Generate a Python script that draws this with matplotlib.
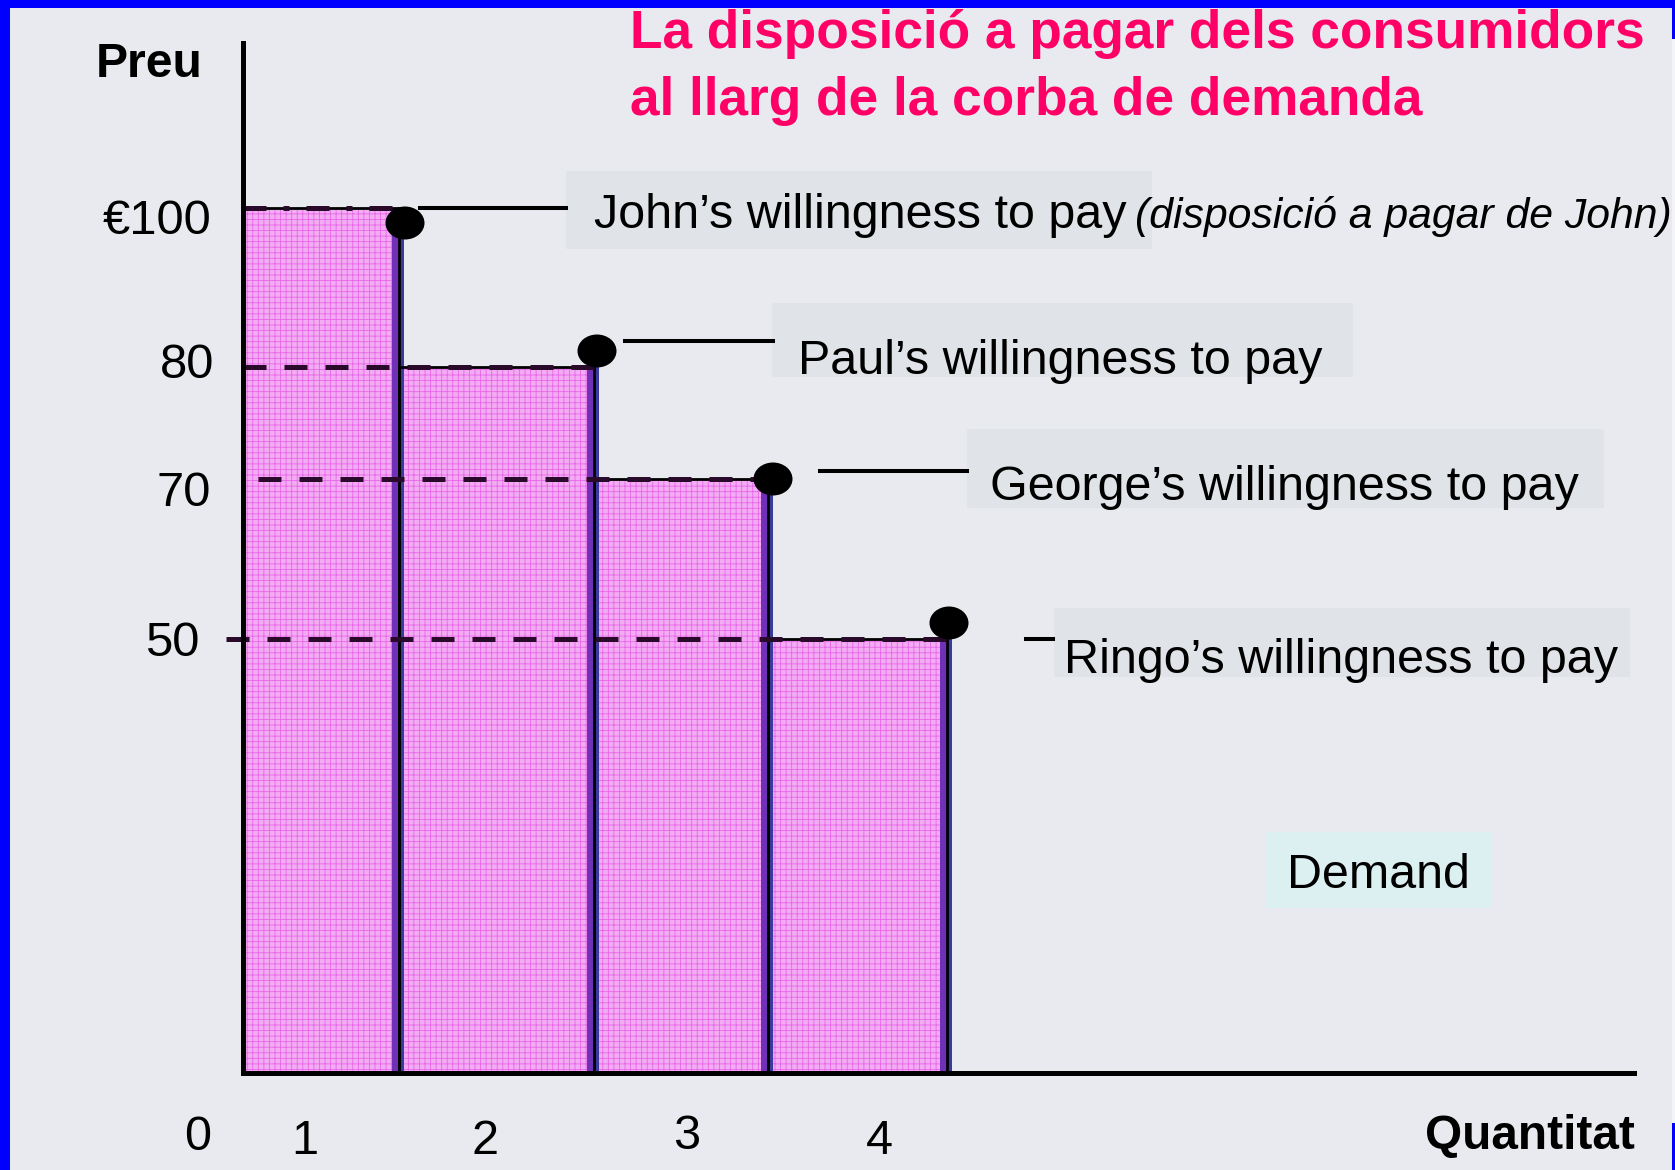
import numpy as np
import matplotlib
matplotlib.use("Agg")
import matplotlib.pyplot as plt
from matplotlib.patches import Rectangle, Ellipse
from matplotlib.lines import Line2D
from matplotlib.transforms import Affine2D, ScaledTranslation, blended_transform_factory

# values
consumers = ["John", "Paul", "George", "Ringo"]
willingness = [100, 80, 70, 50]
price_labels = ["€100", "80", "70", "50"]
qty_labels = ["1", "2", "3", "4"]
callout_texts = ["John’s willingness to pay", "Paul’s willingness to pay",
                 "George’s willingness to pay", "Ringo’s willingness to pay"]
john_note = "(disposició a pagar de John)"
title = ["La disposició a pagar dels consumidors", "al llarg de la corba de demanda"]

W, H, DPI = 1675, 1170, 100
BG = "#e9eaef"
PINK = "#ff0066"
plt.rcParams["font.family"] = ["Liberation Sans", "DejaVu Sans"]
plt.rcParams["hatch.linewidth"] = 0.6

# the slide is schematic, not drawn to scale: pixel spacing of its axes
qty_edges_px = [0, 156, 351, 525, 704]
price_levels_px = [0, 434, 594, 706, 865]   # for 0, 50, 70, 80, 100

x_vals = np.array([-1, 0, 1, 2, 3, 4, 12], dtype=float)
x_pos = np.array([-176] + qty_edges_px + [704 + 8 * 176], dtype=float)
y_vals = np.array([-10, 0] + sorted(willingness) + [200], dtype=float)
y_pos = np.array([-86.5] + price_levels_px + [865 + 100 * 8.65], dtype=float)


def xfwd(v):
    return np.interp(v, x_vals, x_pos)


def xinv(p):
    return np.interp(p, x_pos, x_vals)


def yfwd(v):
    return np.interp(v, y_vals, y_pos)


def yinv(p):
    return np.interp(p, y_pos, y_vals)


fig = plt.figure(figsize=(W / DPI, H / DPI), dpi=DPI, facecolor=BG)
ax = fig.add_axes([243 / W, 1 - 1073 / H, (1634 - 243) / W, (1073 - 43) / H])
ax.set_facecolor(BG)
ax.set_xscale("function", functions=(xfwd, xinv))
ax.set_yscale("function", functions=(yfwd, yinv))
ax.set_xlim(0, float(xinv(1634 - 243)))
ax.set_ylim(0, float(yinv(1073 - 43)))


def fig_rect(x0, y0, x1, y1, color, z=0):
    # pixel box (y from top) drawn on the figure
    fig.patches.append(Rectangle((x0 / W, 1 - y1 / H), (x1 - x0) / W, (y1 - y0) / H,
                                 transform=fig.transFigure, fc=color, ec="none", zorder=z))


def row_transform(v):
    # x in figure pixels, y in pixels below the top of the bar at value v
    ytr = Affine2D().scale(1, -1) + ScaledTranslation(0, v, ax.transData)
    return blended_transform_factory(Affine2D(), ytr)


def edge_transform(x):
    # x in pixels from data x, y in data
    xtr = Affine2D() + ScaledTranslation(x, 0, ax.transData)
    return blended_transform_factory(xtr, ax.transData)


# bars
n = len(willingness)
lefts = list(range(n))
ax.bar(lefts, willingness, width=1, align="edge", color="#f3acf3", edgecolor="none", zorder=2)
ax.bar(lefts, willingness, width=1, align="edge", fill=False, edgecolor="#e866e8",
       linewidth=0, hatch="+++", zorder=2.2)
ax.bar(lefts, willingness, width=1, align="edge", fill=False, edgecolor="black",
       linewidth=2, zorder=3.5)
for i, v in enumerate(willingness):
    tr = edge_transform(i + 1)
    ax.add_patch(Rectangle((-7, 0), 7, v, transform=tr, fc="#7030b8", ec="none", zorder=3))
    ax.add_patch(Rectangle((0, 0), 5, v, transform=tr, fc="#3a3a9e", ec="none", zorder=3))

# dashed price levels
dash_start = xinv(np.array([0, 0, 15, -17], dtype=float))
for i, v in enumerate(willingness):
    ls = (0, (4.6, 3.4, 1.2, 3.4)) if i == 0 else (0, (4.6, 3.6))
    ax.plot([dash_start[i], i + 1], [v, v], color="#2a0a2a", lw=3.6, ls=ls,
            dash_capstyle="butt", clip_on=False, zorder=4)

# dots at the top corners (pixel nudges, y downwards)
dot_nudge = [(6, 15), (3, -16), (5, 0), (2, -16)]
for i, v in enumerate(willingness):
    dx, dy = dot_nudge[i]
    tr = Affine2D().translate(dx, -dy) + ScaledTranslation(i + 1, v, ax.transData)
    ax.add_patch(Ellipse((0, 0), 39, 33, transform=tr, fc="black", ec="none",
                         zorder=5, clip_on=False))

# callouts: box x0, x1, y0, y1, leader x0, x1, leader dy, text x, baseline dy
callouts = [
    (566, 1152, -37, 41, 420, 566, 0, 594, 20),
    (772, 1353, -64, 10, 625, 773, -26, 798, 7),
    (967, 1604, -50, 29, 820, 967, -8, 990, 21),
    (1054, 1630, -31, 38, 1026, 1053, 0, 1064, 34),
]
for i, v in enumerate(willingness):
    bx0, bx1, by0, by1, lx0, lx1, ldy, tx, tdy = callouts[i]
    tr = row_transform(v)
    fig.patches.append(Rectangle((bx0, by0), bx1 - bx0, by1 - by0, transform=tr,
                                 fc="#e0e3e8", ec="none", zorder=1))
    fig.lines.append(Line2D([lx0, lx1], [ldy, ldy], transform=tr, color="black", lw=2.9, zorder=4))
    fig.text(tx, tdy, callout_texts[i], transform=tr, fontsize=34.9, va="baseline", ha="left", zorder=6)
    if i == 0:
        fig.text(1135, tdy, john_note, transform=tr, fontsize=30.8, style="italic",
                 va="baseline", ha="left", zorder=6)

# demand tag
fig_rect(1266, 832, 1491, 908, "#dcf0f2", z=1)
fig.text(1287 / W, 1 - 888 / H, "Demand", fontsize=34.8, va="baseline", ha="left")

# axes styling
for s in ["top", "right"]:
    ax.spines[s].set_visible(False)
for s in ["left", "bottom"]:
    ax.spines[s].set_linewidth(3.6)
    ax.spines[s].set_color("black")
    ax.spines[s].set_zorder(6)

ax.set_yticks(willingness, price_labels)
ax.tick_params(axis="y", length=0, pad=23, labelsize=35.3)
ylab_nudge = [(0, 8), (3, -7), (0, 9), (-12, -1)]
for lab, (dx, dy) in zip(ax.get_yticklabels(), ylab_nudge):
    lab.set_transform(lab.get_transform() + ScaledTranslation(dx / DPI, -dy / DPI, fig.dpi_scale_trans))

qty_tick_px = np.array([62, 242, 444, 636], dtype=float)
ax.set_xticks(xinv(qty_tick_px), qty_labels)
ax.tick_params(axis="x", length=0, pad=33, labelsize=35)
xlab_nudge = [0, 0, -5, 0]
for lab, dy in zip(ax.get_xticklabels(), xlab_nudge):
    lab.set_transform(lab.get_transform() + ScaledTranslation(0, -dy / DPI, fig.dpi_scale_trans))
ax.annotate("0", xy=(0, 0), xytext=(-45, -65), textcoords="offset pixels",
            ha="center", va="center", fontsize=35, annotation_clip=False)

fig.text(203 / W, 1 - 77 / H, "Preu", fontsize=34.7, fontweight="bold", ha="right", va="baseline")
fig.text(1635 / W, 1 - 1149 / H, "Quantitat", fontsize=34.4, fontweight="bold", ha="right", va="baseline")

fig.text(630 / W, 1 - 48 / H, title[0], fontsize=38.3, fontweight="bold", color=PINK, va="baseline")
fig.text(630 / W, 1 - 115 / H, title[1], fontsize=38.3, fontweight="bold", color=PINK, va="baseline")

# slide frame
fig_rect(0, 0, 10, H, "#0000ff", z=10)
fig_rect(0, 0, W, 8, "#0000ff", z=10)
fig_rect(1672, 8, W, 1123, "#f4f4f8", z=9)
fig_rect(1672, 0, W, 39, "#0000ff", z=10)
fig_rect(1672, 1123, W, H, "#0000ff", z=10)

fig.savefig("out.png", dpi=DPI, facecolor=BG)
